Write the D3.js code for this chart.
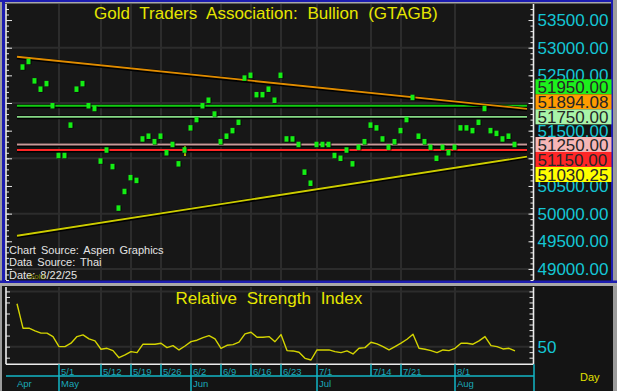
<!DOCTYPE html>
<html><head><meta charset="utf-8">
<script src="https://cdn.jsdelivr.net/npm/d3@7"></script>
<style>html,body{margin:0;padding:0;background:#141414;overflow:hidden}svg{display:block}</style>
</head><body><svg id="c" width="617" height="391"></svg>
<script>
// ---------------- DATA ----------------
const dates = ['4/22','4/23','4/24','4/25','4/28','4/29','4/30',
'5/1','5/2','5/5','5/6','5/7','5/8','5/9','5/12','5/13','5/14','5/15','5/16','5/19','5/20','5/21','5/22','5/23','5/26','5/27','5/28','5/29','5/30',
'6/2','6/3','6/4','6/5','6/6','6/9','6/10','6/11','6/12','6/13','6/16','6/17','6/18','6/19','6/20','6/23','6/24','6/25','6/26','6/27','6/30',
'7/1','7/2','7/3','7/4','7/7','7/8','7/9','7/10','7/11','7/14','7/15','7/16','7/17','7/18','7/21','7/22','7/23','7/24','7/25','7/28','7/29','7/30','7/31',
'8/1','8/4','8/5','8/6','8/7','8/8','8/11','8/12','8/13','8/14','8/15'];
const bodyBottom = [null,
52600,52700,52350,52200,52300,51900,51000,51000,51550,52200,
52300,51900,51850,50900,51100,50800,50050,50350,50600,50550,
51300,51350,51250,51350,51050,51200,50850,51100,51500,51650,
51900,52000,51750,51250,51350,51450,51600,52400,52450,52100,
52100,52200,52000,52450,51300,51300,51200,50700,50500,51200,
51200,51200,51000,50950,51100,50850,51150,51250,51550,51500,
51300,51150,51250,51450,51650,52050,51350,51250,51150,50950,
51150,51050,51150,51500,51500,51450,51600,51850,51450,51400,
51300,51350,51200];
const bodyTop = [null,
52700,52800,52450,52300,52400,52000,51100,51100,51650,52300,
52400,52000,51950,51000,51200,50900,50150,50450,50700,50650,
51400,51450,51350,51450,51150,51300,50950,51200,51600,51750,
52000,52100,51850,51350,51450,51550,51700,52500,52550,52200,
52200,52300,52100,52550,51400,51400,51300,50800,50600,51300,
51300,51300,51100,51050,51200,50950,51250,51350,51650,51600,
51400,51250,51350,51550,51750,52150,51450,51350,51250,51050,
51250,51150,51250,51600,51600,51550,51700,51950,51550,51500,
51400,51450,51300];
const dojiWick = {date:'5/30', high:51220, low:51040};
const rsi = [88.8,
66.7,66.7,64.3,62.2,62.2,59.1,50,50,53.1,59.1,
60.6,57,55.2,47.6,48.5,46.4,40,42.5,45.5,44.6,
52.2,52.2,52.2,53.1,49.1,50.9,47,50.6,54.5,55.8,
58.2,60,57,48.5,51.2,51.8,54,61.5,63,58.5,
58.5,59.1,54.5,60.9,46.4,46.1,44.9,39.4,37.9,47,
47,47,45.5,44.6,46.1,43.4,48.5,49.1,54,52.5,
50,47,50,53.1,56.7,61.2,48.5,47.6,46.4,44.6,
47,46.4,48.5,53.1,53.1,52.2,55.2,59.1,50.9,50,
47.9,48.5,46.1];
const levelValues = [51950, 51750, 51250, 51150];
const resistanceLine = [52836, 51894.08];
const supportLine = [49600, 51030.25];
const trendIndex = [0, 85];
const priceTicks = [53500,53000,52500,51500,50500,50000,49500,49000];
const gridValues = [53000,52000,51000,50000,49000];
const rsiLabelTicks = [50];
const dateTicks = ['5/1','5/12','5/19','5/26','6/2','6/9','6/16','6/23','7/1','7/14','7/21','8/1'];
const monthLabels = ['Apr','May','Jun','Jul','Aug'];
const monthStarts = ['4/22','5/1','6/2','7/1','8/1'];
const title = 'Gold Traders Association: Bullion (GTAGB)';
const rsiTitle = 'Relative Strength Index';
const sourceLines = ['Chart Source: Aspen Graphics','Data Source: Thai','Date:  8/22/25'];

// ---------------- LAYOUT ----------------
const W = 617, H = 391;
const P = {l: 6, r: 533.5, t: 4, b: 280};
const R = {t: 287, b: 364.3};
const svg = d3.select('#c');
const idx = d => dates.indexOf(d);

const x = d3.scaleLinear().domain([0, 83]).range([17, 515]);
const y = d3.scaleLinear().domain([48800, 53790]).range([P.b, P.t]);
const yR = d3.scaleLinear().domain([34, 104]).range([R.b, R.t]);

svg.append('rect').attr('width', W).attr('height', H).attr('fill', '#141414');
svg.append('rect').attr('x', P.l).attr('y', P.t).attr('width', P.r - P.l).attr('height', P.b - P.t).attr('fill', '#171717');
svg.append('rect').attr('x', P.l).attr('y', R.t).attr('width', P.r - P.l).attr('height', R.b - R.t).attr('fill', '#171717');

// borders
svg.append('rect').attr('x', 0).attr('y', 0).attr('width', 2).attr('height', H).attr('fill', '#9c9c9c');
svg.append('rect').attr('x', 2).attr('y', 0).attr('width', 3).attr('height', 283).attr('fill', '#1c1cb0');
svg.append('rect').attr('x', 0).attr('y', 0).attr('width', W).attr('height', 2).attr('fill', '#1c1cb0');
svg.append('rect').attr('x', 5).attr('y', 2).attr('width', W - 5).attr('height', 1.5).attr('fill', '#a8a8a8');
svg.append('rect').attr('x', 611).attr('y', 0).attr('width', 2).attr('height', 283).attr('fill', '#1c1cb0');
svg.append('rect').attr('x', 613).attr('y', 0).attr('width', 4).attr('height', H).attr('fill', '#9c9c9c');
svg.append('rect').attr('x', 0).attr('y', 280.5).attr('width', W).attr('height', 2.5).attr('fill', '#1c1cb0');
svg.append('rect').attr('x', 0).attr('y', 283).attr('width', W).attr('height', 3).attr('fill', '#a8a8a8');

// clip
svg.append('clipPath').attr('id', 'cm').append('rect').attr('x', P.l + 1).attr('y', P.t).attr('width', P.r - P.l - 1.5).attr('height', P.b - P.t);
svg.append('clipPath').attr('id', 'cr').append('rect').attr('x', P.l + 1).attr('y', R.t).attr('width', P.r - P.l - 1.5).attr('height', R.b - R.t);

// grid
const gridC = '#2c2c2c';
const gm = svg.append('g').attr('clip-path', 'url(#cm)');
gm.selectAll('.vg').data(dateTicks).join('line')
  .attr('x1', d => x(idx(d))).attr('x2', d => x(idx(d))).attr('y1', P.t).attr('y2', P.b)
  .attr('stroke', gridC).attr('stroke-width', 2);
gm.selectAll('.hg').data(gridValues).join('line')
  .attr('x1', P.l).attr('x2', P.r).attr('y1', d => y(d)).attr('y2', d => y(d))
  .attr('stroke', gridC).attr('stroke-width', 2);
const gr = svg.append('g').attr('clip-path', 'url(#cr)');
gr.selectAll('.vg').data(dateTicks).join('line')
  .attr('x1', d => x(idx(d))).attr('x2', d => x(idx(d))).attr('y1', R.t).attr('y2', R.b)
  .attr('stroke', gridC).attr('stroke-width', 2);
gr.selectAll('.hg').data([50, 100]).join('line')
  .attr('x1', P.l).attr('x2', P.r).attr('y1', d => yR(d)).attr('y2', d => yR(d))
  .attr('stroke', gridC).attr('stroke-width', 2);

// titles
svg.append('text').attr('x', 94).attr('y', 19).text(title)
  .attr('font-family', 'Liberation Sans, Arial, sans-serif').attr('font-size', 17)
  .style('word-spacing', '5px').attr('fill', '#e6e600');
svg.append('text').attr('x', 175.5).attr('y', 303.5).text(rsiTitle)
  .attr('font-family', 'Liberation Sans, Arial, sans-serif').attr('font-size', 17)
  .style('word-spacing', '5px').attr('fill', '#e6e600');

// lines
const line = d3.line().x(d => x(d[0])).y(d => y(d[1]));
function drawLine(pts, color, w, shadow) {
  if (shadow) gm.append('path').datum(pts).attr('d', line).attr('fill', 'none')
    .attr('stroke', '#000').attr('stroke-width', w + 2).attr('transform', 'translate(0,0.6)');
  gm.append('path').datum(pts).attr('d', line).attr('fill', 'none')
    .attr('stroke', color).attr('stroke-width', w);
}
const levelColors = ['#12cc12', '#86d886', '#c89a9a', '#ff2626'];
levelValues.forEach((v, i) => drawLine(trendIndex.map(k => [k, v]), levelColors[i], i === 2 ? 2.2 : 1.8, true));
drawLine(trendIndex.map((k, i) => [k, resistanceLine[i]]), '#e08c00', 1.8, true);
drawLine(trendIndex.map((k, i) => [k, supportLine[i]]), '#cccc00', 1.8, true);

// candles
const candles = dates.map((d, i) => ({i, d, lo: bodyBottom[i], hi: bodyTop[i]})).filter(c => c.lo != null);
gm.append('line')
  .attr('x1', x(idx(dojiWick.date))).attr('x2', x(idx(dojiWick.date)))
  .attr('y1', y(dojiWick.high)).attr('y2', y(dojiWick.low))
  .attr('stroke', '#e0e000').attr('stroke-width', 1.5);
gm.selectAll('.cs').data(candles).join('rect')
  .attr('x', c => x(c.i) - 2).attr('y', c => y(c.hi) + 0.5)
  .attr('width', 4.5).attr('height', c => y(c.lo) - y(c.hi))
  .attr('fill', '#000').attr('opacity', 0.7);
gm.selectAll('.cb').data(candles).join('rect')
  .attr('x', c => x(c.i) - 2.5).attr('y', c => y(c.hi))
  .attr('width', 4).attr('height', c => y(c.lo) - y(c.hi))
  .attr('fill', '#14ee14');

// axes main
function tickAxis(g, axisGen, vals, size) {
  g.call(axisGen.tickValues(vals).tickSize(size).tickFormat(''));
  g.select('.domain').remove();
  g.selectAll('line').attr('stroke', '#e8e8e8').attr('stroke-width', 1);
}
const minorP = d3.range(48800, 53800, 100), majorP = d3.range(49000, 53800, 500);
tickAxis(svg.append('g').attr('transform', `translate(${P.l},0)`), d3.axisRight(y), minorP, 3);
tickAxis(svg.append('g').attr('transform', `translate(${P.l},0)`), d3.axisRight(y), majorP, 6);
tickAxis(svg.append('g').attr('transform', `translate(${P.r},0)`), d3.axisLeft(y), minorP, 3);
tickAxis(svg.append('g').attr('transform', `translate(${P.r},0)`), d3.axisLeft(y), majorP, 5);
// RSI ticks
tickAxis(svg.append('g').attr('transform', `translate(${P.l},0)`), d3.axisRight(yR), d3.range(40, 101, 10).concat([95]), 4);
tickAxis(svg.append('g').attr('transform', `translate(${P.r},0)`), d3.axisLeft(yR), d3.range(40, 101, 5), 4);

// axis lines
[[P.l, P.t, P.l, P.b], [P.r, P.t, P.r, P.b], [P.l, R.t, P.l, R.b], [P.r, R.t, P.r, R.b], [P.l, R.b, P.r, R.b]]
  .forEach(a => svg.append('line').attr('x1', a[0]).attr('y1', a[1]).attr('x2', a[2]).attr('y2', a[3])
    .attr('stroke', '#ececec').attr('stroke-width', 1.6));

// right price labels (axis)
const labFont = 'Liberation Sans, Arial, sans-serif';
const ra = svg.append('g').attr('transform', `translate(${P.r + 2},0)`)
  .call(d3.axisRight(y).tickValues(priceTicks).tickSize(0).tickPadding(2).tickFormat(d3.format('.2f')));
ra.select('.domain').remove();
ra.selectAll('text').attr('font-family', labFont).attr('font-size', 17).attr('fill', '#14c6d4');

// value boxes
const boxFills = ['#1cf01c', '#ff9c00', '#a8f4a8', '#f6b6b6', '#ff2626', '#ffff00'];
const boxVals = [levelValues[0], resistanceLine[1], levelValues[1], levelValues[2], levelValues[3], supportLine[1]];
const lastMid = (bodyBottom[bodyBottom.length - 1] + bodyTop[bodyTop.length - 1]) / 2;
const bh = 15;
let boxes = boxVals.map((v, i) => ({v, fill: boxFills[i], c: y(v)})).sort((a, b) => a.c - b.c);
const clusters = [];
boxes.forEach(b => {
  const cl = clusters[clusters.length - 1];
  if (cl && b.c - cl[cl.length - 1].c < bh) cl.push(b); else clusters.push([b]);
});
clusters.forEach(cl => {
  if (d3.min(cl, b => b.v) > lastMid) {
    const base = cl[cl.length - 1].c;
    cl.forEach((b, j) => b.pos = base - (cl.length - 1 - j) * bh);
  } else {
    const base = cl[0].c;
    cl.forEach((b, j) => b.pos = base + j * bh);
  }
});
const bg = svg.append('g');
bg.selectAll('rect').data(boxes).join('rect')
  .attr('x', 535.5).attr('y', b => b.pos - bh / 2).attr('width', 76).attr('height', bh)
  .attr('fill', b => b.fill);
bg.selectAll('text').data(boxes).join('text')
  .attr('x', 537.5).attr('y', b => b.pos).attr('dy', '0.36em')
  .attr('font-family', labFont).attr('font-size', 17).attr('fill', '#262626')
  .text(b => d3.format('.2f')(b.v));

// RSI line
const rl = d3.line().x((d, i) => x(i)).y(d => yR(d));
gr.append('path').datum(rsi).attr('d', rl).attr('fill', 'none')
  .attr('stroke', '#d4d400').attr('stroke-width', 1.4).attr('stroke-linejoin', 'round');
const rlab = svg.append('g').attr('transform', `translate(${P.r + 2},0)`)
  .call(d3.axisRight(yR).tickValues(rsiLabelTicks).tickSize(0).tickPadding(2));
rlab.select('.domain').remove();
rlab.selectAll('text').attr('font-family', labFont).attr('font-size', 17).attr('fill', '#14c6d4');

// source text
sourceLines.forEach((t, i) => svg.append('text').attr('x', 9).attr('y', 254 + i * 12.3).text(t)
  .attr('font-family', labFont).attr('font-size', 11).style('word-spacing', '2px').attr('fill', '#e4e4e4'));
svg.append('text').attr('x', 28).attr('y', 278.5).text('Gold').attr('font-family', labFont)
  .attr('font-size', 8).attr('fill', '#a8a800').attr('opacity', 0.8);

// date axis
const cy = '#12b6c6';
svg.append('line').attr('x1', P.l).attr('x2', 534).attr('y1', 376).attr('y2', 376).attr('stroke', cy).attr('stroke-width', 1.5);
svg.append('line').attr('x1', 534).attr('x2', 534).attr('y1', R.b).attr('y2', H).attr('stroke', cy).attr('stroke-width', 1.5);
svg.selectAll('.dt').data(dateTicks).join('line')
  .attr('x1', d => x(idx(d))).attr('x2', d => x(idx(d))).attr('y1', R.b).attr('y2', 376)
  .attr('stroke', cy).attr('stroke-width', 1.5);
svg.selectAll('.dtl').data(dateTicks).join('text')
  .attr('x', d => x(idx(d)) + 2).attr('y', 374.5).text(d => d)
  .attr('font-family', labFont).attr('font-size', 9.5).attr('fill', '#1aa8b8');
svg.selectAll('.ml').data(monthStarts.slice(1)).join('line')
  .attr('x1', d => x(idx(d))).attr('x2', d => x(idx(d))).attr('y1', 376).attr('y2', H)
  .attr('stroke', cy).attr('stroke-width', 1.5);
svg.selectAll('.mt').data(monthStarts).join('text')
  .attr('x', (d, i) => x(idx(d)) + (i === 0 ? 0 : 2)).attr('y', 386.5).text((d, i) => monthLabels[i])
  .attr('font-family', labFont).attr('font-size', 9.5).attr('fill', '#1aa8b8');
svg.append('text').attr('x', 580).attr('y', 381).text('Day')
  .attr('font-family', labFont).attr('font-size', 11).attr('fill', '#e0e000');
</script></body></html>
